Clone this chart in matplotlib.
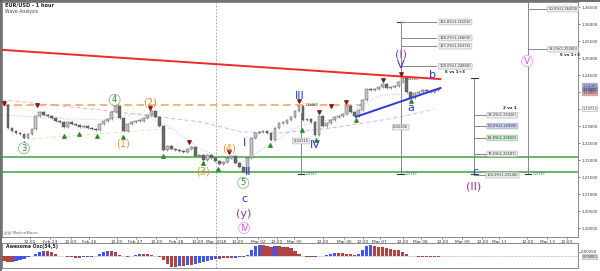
import numpy as np
import matplotlib.pyplot as plt

# hourly closes sampled along the chart (bar index = one candle)
closes = [1.2362, 1.2294, 1.2285, 1.2280, 1.2277, 1.2265, 1.2277, 1.2291, 1.2330, 1.2341,
          1.2333, 1.2330, 1.2324, 1.2315, 1.2312, 1.2297, 1.2312, 1.2306, 1.2303, 1.2297,
          1.2300, 1.2294, 1.2291, 1.2288, 1.2306, 1.2315, 1.2321, 1.2341, 1.2359, 1.2324,
          1.2285, 1.2306, 1.2312, 1.2315, 1.2315, 1.2324, 1.2333, 1.2344, 1.2327, 1.2300,
          1.2230, 1.2241, 1.2233, 1.2230, 1.2227, 1.2224, 1.2233, 1.2238, 1.2212, 1.2215,
          1.2200, 1.2215, 1.2206, 1.2197, 1.2188, 1.2194, 1.2206, 1.2212, 1.2191, 1.2180,
          1.2165, 1.2206, 1.2265, 1.2280, 1.2283, 1.2285, 1.2280, 1.2259, 1.2294, 1.2309,
          1.2309, 1.2318, 1.2327, 1.2344, 1.2359, 1.2318, 1.2321, 1.2312, 1.2274, 1.2330,
          1.2300, 1.2309, 1.2318, 1.2327, 1.2330, 1.2335, 1.2359, 1.2341, 1.2330, 1.2347,
          1.2377, 1.2409, 1.2406, 1.2409, 1.2415, 1.2424, 1.2412, 1.2415, 1.2418, 1.2430,
          1.2441, 1.2400, 1.2382, 1.2397, 1.2400, 1.2406, 1.2403, 1.2400, 1.2406, 1.2406]

ao = [-0.0025, -0.0030, -0.0030, -0.0025, -0.0020, -0.0015, -0.0005, 0.0005, 0.0015, 0.0025,
      0.0030, 0.0030, 0.0025, 0.0015, 0.0005, 0.0002, -0.0002, -0.0005, -0.0008, -0.0008,
      -0.0005, -0.0005, -0.0002, 0.0005, 0.0015, 0.0025, 0.0030, 0.0030, 0.0025, 0.0010,
      0.0000, -0.0005, 0.0005, 0.0010, 0.0015, 0.0015, 0.0015, 0.0010, 0.0005, -0.0005,
      -0.0020, -0.0040, -0.0055, -0.0055, -0.0050, -0.0050, -0.0045, -0.0045, -0.0040, -0.0035,
      -0.0030, -0.0025, -0.0020, -0.0015, -0.0015, -0.0010, -0.0010, -0.0010, -0.0008, -0.0005,
      -0.0005, 0.0010, 0.0035, 0.0055, 0.0060, 0.0060, 0.0055, 0.0050, 0.0055, 0.0055,
      0.0050, 0.0050, 0.0045, 0.0030, 0.0015, 0.0000, -0.0005, -0.0005, -0.0002, 0.0000,
      0.0005, 0.0010, 0.0015, 0.0020, 0.0020, 0.0020, 0.0015, 0.0015, 0.0010, 0.0015,
      0.0035, 0.0055, 0.0060, 0.0055, 0.0050, 0.0050, 0.0045, 0.0040, 0.0035, 0.0035,
      0.0025, 0.0015, 0.0005, 0.0000, -0.0002, -0.0005, -0.0005, -0.0005, -0.0005, -0.0005]

time_pos = [6.5, 11.5, 16.75, 21.25, 28.25, 33, 38.25, 43.25, 48.5, 53.25, 58.5, 63.75, 68.5,
            72.75, 80, 85.25, 90, 94.25, 100, 104.5, 110, 115, 120, 124.25, 131.25, 136.25, 141.25]
time_labels = ["12:00", "Feb 23", "12:00", "Feb 26", "12:00", "Feb 27", "12:00", "Feb 28",
               "12:00", "Mar 2018", "12:00", "Mar 02", "12:00", "Mar 05", "12:00", "Mar 06",
               "12:00", "Mar 07", "12:00", "Mar 08", "12:00", "Mar 09", "12:00", "Mar 11",
               "12:00", "Mar 13", "12:00"]

swing_hi_x = [0, 8.25, 36.75, 46.5, 56.5, 74, 79, 82, 85.75, 95, 99.5]
swing_hi_y = [1.2365, 1.2359, 1.2350, 1.2250, 1.2221, 1.2371, 1.2338, 1.2356, 1.2368, 1.2432, 1.2450]
swing_lo_x = [5, 15, 18.75, 23.25, 29.75, 40, 50, 53.75, 60, 66.75, 74.75, 78.25, 88.25, 102]
swing_lo_y = [1.2253, 1.2274, 1.2280, 1.2274, 1.2271, 1.2215, 1.2194, 1.2177, 1.2147, 1.2247,
              1.2291, 1.2262, 1.2321, 1.2377]

# moving averages (faint)
ma_slow_x = [-0.5, 24.5, 49.5, 59.5, 69.5, 82, 92, 99.5, 108]
ma_slow_y = [1.2377, 1.2347, 1.2312, 1.2283, 1.2280, 1.2294, 1.2312, 1.2327, 1.2350]
ma_fast_x = [-0.5, 9.5, 24.5, 34.5, 42, 49.5, 59.5, 64.5, 74.5, 84.5, 94.5, 107]
ma_fast_y = [1.2333, 1.2324, 1.2318, 1.2338, 1.2294, 1.2230, 1.2194, 1.2230, 1.2303, 1.2324, 1.2391, 1.2397]

red_x, red_y = [-0.5, 109.5], [1.2524, 1.2438]
blue_x, blue_y = [88.25, 109.5], [1.2327, 1.2412]
orange_level = 1.2363
green_levels = [1.2210, 1.2165]

fib1_prices = [1.2606, 1.2559, 1.2535, 1.2476]
fib1_labels = ["161.8%(1.26104)", "138.2%(1.25600)", "127.2%(1.25374)", "100.0%(1.24800)"]
fib2_prices = [1.2332, 1.2300, 1.2265, 1.2218, 1.2156]
fib2_labels = ["38.2%(1.23320)", "50.0%(1.22990)", "61.8%(1.22650)", "78.6%(1.22187)", "100.0%(1.21540)"]
fib3_prices = [1.2644, 1.2526]
fib3_labels = ["50.0%(1.26400)", "38.2%(1.25260)"]

fig = plt.figure(figsize=(6, 2.71), dpi=100)
ax = fig.add_axes([2 / 600, 34 / 271, 576 / 600, 235 / 271])
ax2 = fig.add_axes([2 / 600, 3 / 271, 576 / 600, 25 / 271])

x = np.arange(len(closes))
c = np.array(closes)
o = np.concatenate([[c[0] + 0.0003], c[:-1]])
h = np.abs(c - o)
h[h < 0.00025] = 0.00025
bot = np.minimum(o, c)
col = ['#c4c4c4' if cc >= oo else '#6a6a6a' for cc, oo in zip(c, o)]
ax.vlines(x, bot - 0.0003, bot + h + 0.0003, color='#555555', lw=0.4, zorder=3)
ax.bar(x, h, bottom=bot, width=0.7, color=col, edgecolor='#4a4a4a', linewidth=0.3, zorder=4)

ax.plot(ma_slow_x, ma_slow_y, color='#e6a8e6', lw=0.7, ls=(0, (4, 3)), zorder=2)
ax.plot(ma_fast_x, ma_fast_y, color='#b8c4ff', lw=0.7, ls=(0, (1, 1.5)), zorder=2)
ax.plot([7, 43], [1.2262, 1.2294], color='#dfe6b0', lw=0.7, ls=(0, (4, 3)), zorder=2)
ax.plot([1, 24], [1.2362, 1.2297], color='#f2d2b0', lw=0.7, ls=(0, (1, 1.5)), zorder=2)

ax.plot(red_x, red_y, color='#ee2a2a', lw=1.4, zorder=5)
ax.plot(blue_x, blue_y, color='#2a3ae0', lw=1.4, zorder=5)
ax.plot([-0.5, 91.5], [orange_level] * 2, color='#f5a050', lw=1.1, ls=(0, (5, 3)), zorder=3)
for g in green_levels:
    ax.axhline(g, color='#3aa53a', lw=1.1, zorder=3)
ax.axvline(53.25, color='#999999', lw=0.6, ls=(0, (2, 2)), zorder=1)
ax2.axvline(53.25, color='#999999', lw=0.6, ls=(0, (2, 2)), zorder=1)

ax.scatter(swing_hi_x, np.array(swing_hi_y) + 0.0004, marker='v', s=6, color='#8b1a1a', zorder=6)
ax.scatter(swing_lo_x, np.array(swing_lo_y) - 0.0004, marker='^', s=6, color='#2e8b2e', zorder=6)

# measurement lines and fib projections
gray = '#888888'
for vx, top in [(74.5, 1.2338), (99.5, 1.2606), (118, 1.2441), (131.5, 1.2666)]:
    ax.plot([vx, vx], [top, 1.2159], color=gray, lw=0.7, zorder=3)
    ax.plot([vx - 0.8, vx + 0.8], [1.2159, 1.2159], color='#333333', lw=0.8, zorder=3)
for vx, top in [(99.5, 1.2606), (118, 1.2441)]:
    ax.plot([vx - 0.8, vx + 0.8], [top, top], color='#333333', lw=0.8, zorder=3)

box = dict(boxstyle='round,pad=0.25', fc='#eeeeee', ec='#aaaaaa', lw=0.4)
for prices, labels, x0, x1, xt in [(fib1_prices, fib1_labels, 99.5, 108.5, 113.25),
                                   (fib2_prices, fib2_labels, 118, 122, 125),
                                   (fib3_prices, fib3_labels, 131.5, 136, 140.25)]:
    for p, lab in zip(prices, labels):
        ax.plot([x0, x1], [p, p], color=gray, lw=0.7, zorder=3)
        b = dict(box)
        if lab.startswith('50.0%(1.229'):
            b['fc'] = '#c9cdf0'
        elif lab.startswith('61.8'):
            b['fc'] = '#c8ecc8'
        ax.text(xt, p, lab, fontsize=2.6, ha='center', va='center', color='#333333', bbox=b, zorder=7)
ax.text(113.25, 1.2460, '5 vs 1+3', fontsize=3, ha='center', va='center', color='#222222', weight='bold')
ax.text(127, 1.2353, '2 vs 1', fontsize=3, ha='center', va='center', color='#222222', weight='bold')
ax.text(142, 1.2510, '5 vs 1+3', fontsize=3, ha='center', va='center', color='#222222', weight='bold')
ax.text(74.5, 1.2256, '0.02115', fontsize=2.6, ha='center', va='center', color='#333333', bbox=box, zorder=7)
ax.text(99.5, 1.2297, '0.02306', fontsize=2.6, ha='center', va='center', color='#333333', bbox=box, zorder=7)
ax.text(75.5, 1.2362, '1.23660', fontsize=2.4, color='#333333', va='center')
ax.text(100.5, 1.2437, '1.24483', fontsize=2.4, color='#333333', va='center')
for vx in [74.5, 99.5, 131.5]:
    ax.text(vx + 1, 1.2159, '1.21540', fontsize=2.2, color='#555555', va='center')

# wave labels
def circ(xx, yy, s, color, edge, fs=6):
    ax.text(xx, yy, s, fontsize=fs, color=color, ha='center', va='center', zorder=8,
            bbox=dict(boxstyle='circle,pad=0.12', fc='white', ec=edge, lw=0.6))

circ(5, 1.2235, '3', '#2e8b2e', '#7cc47c')
circ(27.75, 1.2377, '4', '#2e8b2e', '#7cc47c')
circ(60, 1.2133, '5', '#2e8b2e', '#7cc47c')
circ(60.25, 1.2000, 'IV', '#ee44ee', '#f29af2')
circ(131.25, 1.2491, 'V', '#ee44ee', '#f29af2', fs=6.5)
orange = '#f58a30'
for xx, yy, s in [(29.75, 1.2250, '(1)'), (36.75, 1.2368, '(2)'), (50, 1.2165, '(3)'), (56.5, 1.2235, '(4)')]:
    ax.text(xx, yy, s, fontsize=7, color=orange, ha='center', va='center', zorder=8)
blue = '#2233dd'
for xx, yy, s in [(60.25, 1.2250, 'I'), (61.25, 1.2165, 'II'), (74.25, 1.2388, 'III'), (78, 1.2244, 'IV'),
                  (99.5, 1.2479, 'V'), (102, 1.2353, 'a'), (107.5, 1.2450, 'b'), (60.25, 1.2086, 'c'),
                  (118.25, 1.2165, 'c')]:
    ax.text(xx, yy, s, fontsize=8, color=blue, ha='center', va='center', zorder=8)
purple = '#993399'
for xx, yy, s in [(60.25, 1.2041, '(y)'), (99.5, 1.2509, '(I)'), (117.75, 1.2121, '(II)')]:
    ax.text(xx, yy, s, fontsize=8, color=purple, ha='center', va='center', zorder=8)

ax.set_xlim(-0.5, 144)
ax.set_ylim(1.19738, 1.26647)
ax.yaxis.tick_right()
ax.set_yticks(np.arange(1.200, 1.2651, 0.005))
ax.set_yticklabels(['%.5f' % v for v in np.arange(1.200, 1.2651, 0.005)])
ax.tick_params(axis='y', labelsize=2.9, length=1.5, width=0.4, pad=0.8, colors='#333333')
ax.set_xticks(time_pos)
ax.set_xticklabels(time_labels)
ax.tick_params(axis='x', labelsize=3.1, length=1.5, width=0.4, pad=0.5, colors='#333333')
for s in ax.spines.values():
    s.set_color('#777777')
    s.set_linewidth(0.6)

ax2.bar(x, ao, width=0.8, color=['#4455ee' if i > 0 and ao[i] > ao[i - 1] else '#b04444'
                                 for i in range(len(ao))], zorder=3)
ax2.axhline(0, color='#999999', lw=0.5, ls=(0, (1, 1)))
ax2.set_xlim(-0.5, 144)
ax2.set_ylim(-0.006, 0.007)
ax2.set_xticks([])
ax2.yaxis.tick_right()
ax2.set_yticks([0.0025])
ax2.set_yticklabels(['0.00250'])
ax2.tick_params(axis='y', labelsize=2.9, length=1.5, width=0.4, pad=0.8, colors='#333333')
for s in ax2.spines.values():
    s.set_color('#777777')
    s.set_linewidth(0.6)
ax2.text(0.5, 0.0052, 'Awesome Osc(34,5)', fontsize=3.3, weight='bold', color='#222222', va='center')

# header and overlays
fig.text(5 / 600, 1 - 5 / 271, 'EUR/USD - 1 hour', fontsize=3.6, weight='bold', color='#222222', va='center')
fig.text(5 / 600, 1 - 12 / 271, 'Wave Analysis', fontsize=3.3, color='#444444', va='center')
fig.text(4 / 600, 1 - 232 / 271, '\u25ce\u25ce MotiveWave', fontsize=3, color='#666666', va='center')
fig.text(567 / 600, 1 - 3 / 271, '\u2606\u2606\u2606', fontsize=3.5, color='#aaaaaa', va='center', ha='center')
for yy, txt, fc in [(85.5, '1.24180', '#b8c0ee'), (89.5, '1.24090', '#8890dd'), (93.5, '1.24000', '#eeaaaa'),
                    (109, '1.23713', '#ffffff'), (257, '0.00000', '#e4e4e4')]:
    fig.text(590 / 600, 1 - yy / 271, txt, fontsize=2.5, color='#222222', ha='center', va='center',
             bbox=dict(boxstyle='round,pad=0.12', fc=fc, ec='#888888', lw=0.3))
fig.add_artist(plt.Line2D([0, 1], [1 - 0.5 / 271] * 2, color='#555555', lw=1.2))
fig.add_artist(plt.Line2D([0.8 / 600] * 2, [0, 1], color='#555555', lw=1.2))

plt.savefig('out.png', dpi=100)
